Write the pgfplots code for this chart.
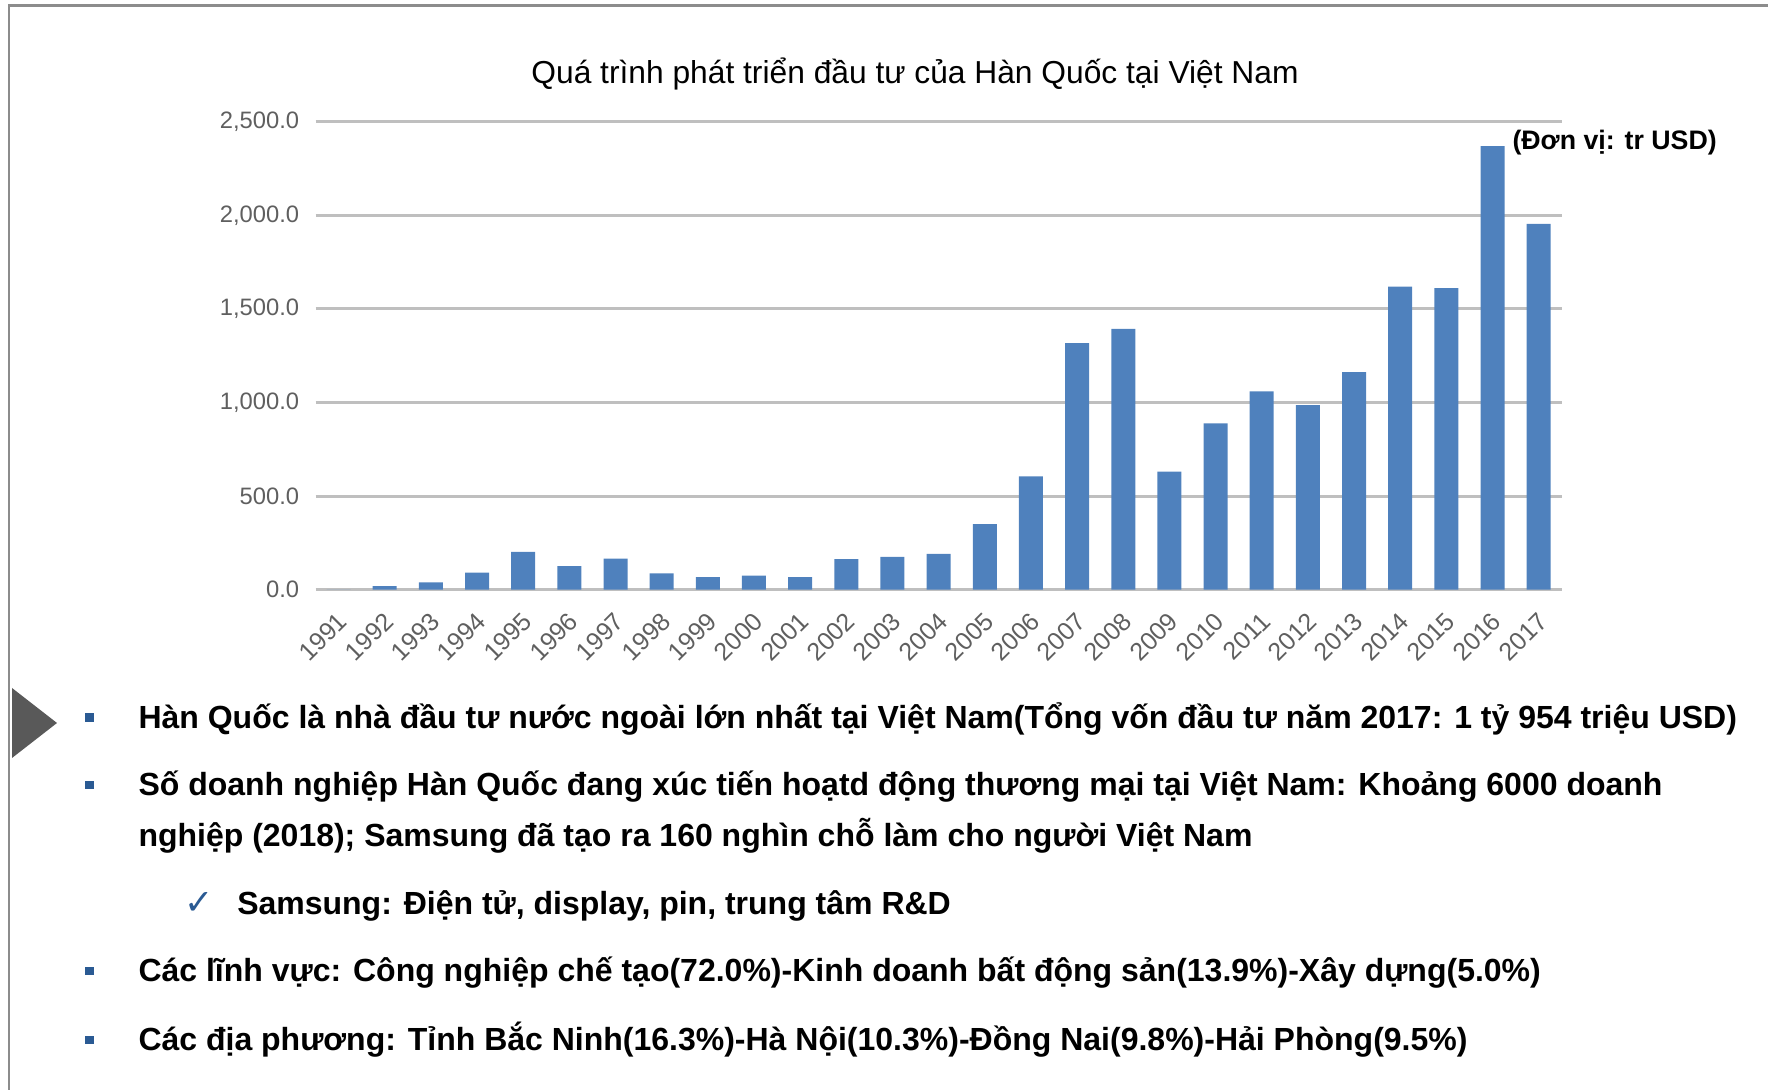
\documentclass[border=0pt]{standalone}
\usepackage{fontspec}
\setmainfont{Liberation Sans}
\newfontfamily\symfont{DejaVu Sans}
\usepackage{pgfplots}
\pgfplotsset{compat=1.18}
\definecolor{barblue}{HTML}{4F81BD}
\definecolor{gridgray}{HTML}{BFBFBF}
\definecolor{ticktext}{HTML}{5F5F5F}
\definecolor{bulletblue}{HTML}{2A5A93}
\definecolor{framegray}{HTML}{8C8C8C}
\definecolor{arrowgray}{HTML}{595959}

\begin{document}
\begin{tikzpicture}
\path[use as bounding box] (0,0) rectangle (707.2pt,436pt);
\draw[framegray, line width=0.9pt] (3.6pt,0pt) -- (3.6pt,433.8pt) -- (707.2pt,433.8pt);
\fill[arrowgray] (4.8pt,160.8pt) -- (22.8pt,146.8pt) -- (4.8pt,132.8pt) -- cycle;

\begin{axis}[
  at={(126.2pt,200.1pt)}, anchor=south west,
  scale only axis, width=498.5pt, height=187.2pt,
  xmin=-0.5, xmax=26.5, ymin=0, ymax=2500,
  axis line style={draw=none},
  major tick length=0pt,
  ymajorgrids, grid style={gridgray, line width=1.2pt},
  ytick={0,500,1000,1500,2000,2500},
  xtick={0,...,26},
  xticklabels={1991,1992,1993,1994,1995,1996,1997,1998,1999,2000,2001,2002,2003,2004,2005,2006,2007,2008,2009,2010,2011,2012,2013,2014,2015,2016,2017},
  /pgf/number format/assume math mode=true,
  yticklabel={\pgfmathprintnumber[fixed, fixed zerofill, precision=1, 1000 sep={,}]{\tick}},
  yticklabel style={font=\fontsize{9.5}{11}\selectfont, text=ticktext, anchor=east, xshift=-3pt},
  xticklabel style={rotate=45, anchor=north east, font=\fontsize{10}{11}\selectfont, text=ticktext, inner sep=1pt, xshift=-5.4pt, yshift=-4.2pt},
  ybar, bar width=9.6pt,
]
\addplot[fill=barblue, draw=none] coordinates {
(0,0) (1,19) (2,40) (3,92) (4,202) (5,126) (6,166) (7,88) (8,67) (9,76)
(10,67) (11,164) (12,175) (13,191) (14,351) (15,605) (16,1318) (17,1394) (18,631)
(19,889) (20,1060) (21,986) (22,1163) (23,1619) (24,1611) (25,2370) (26,1954)
};
\end{axis}

\node[anchor=base, inner sep=0pt, font=\fontsize{12.7}{14}\selectfont] at (366pt,402.7pt) {Quá trình phát triển đầu tư của Hàn Quốc tại Việt Nam};
\node[anchor=base west, inner sep=0pt, font=\bfseries\fontsize{10.7}{12}\selectfont] at (604.8pt,376pt) {(Đơn vị: tr USD)};

\begin{scope}[every node/.style={anchor=base west, inner sep=0pt, font=\bfseries\fontsize{12.8}{14}\selectfont}]
\node at (55.2pt,144.7pt) {Hàn Quốc là nhà đầu tư nước ngoài lớn nhất tại Việt Nam(Tổng vốn đầu tư năm 2017: 1 tỷ 954 triệu USD)};
\node at (55.2pt,117.6pt) {Số doanh nghiệp Hàn Quốc đang xúc tiến hoạtd động thương mại tại Việt Nam: Khoảng 6000 doanh};
\node at (55.2pt,97.3pt) {nghiệp (2018); Samsung đã tạo ra 160 nghìn chỗ làm cho người Việt Nam};
\node at (94.7pt,70.2pt) {Samsung: Điện tử, display, pin, trung tâm R\&D};
\node at (55.2pt,43.2pt) {Các lĩnh vực: Công nghiệp chế tạo(72.0\%)-Kinh doanh bất động sản(13.9\%)-Xây dựng(5.0\%)};
\node at (55.2pt,15.7pt) {Các địa phương: Tỉnh Bắc Ninh(16.3\%)-Hà Nội(10.3\%)-Đồng Nai(9.8\%)-Hải Phòng(9.5\%)};
\end{scope}
\node[anchor=base west, inner sep=0pt, text=bulletblue, font=\symfont\fontsize{14}{15}\selectfont] at (73.5pt,70.2pt) {✓};
\foreach \y in {144.7,117.6,43.2,15.7}{
  \fill[bulletblue] (34pt,\y pt+2.6pt) rectangle ++(3.4pt,3.4pt);
}
\end{tikzpicture}
\end{document}
